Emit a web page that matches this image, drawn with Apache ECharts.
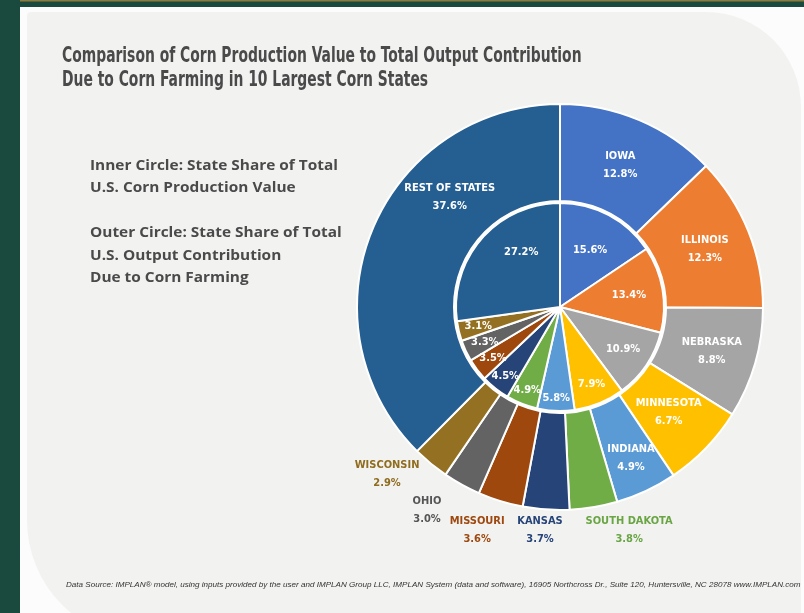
<!DOCTYPE html>
<html><head><meta charset="utf-8">
<script src="https://cdn.jsdelivr.net/npm/echarts@6/dist/echarts.min.js"></script>
<style>html,body{margin:0;padding:0;background:#1a4a3d}#c{width:804px;height:613px}</style>
</head><body><div id="c"></div>
<script>
// ---- data ----
const states = ['IOWA','ILLINOIS','NEBRASKA','MINNESOTA','INDIANA','SOUTH DAKOTA','KANSAS','MISSOURI','OHIO','WISCONSIN','REST OF STATES'];
const outerShare = [12.8,12.3,8.8,6.7,4.9,3.8,3.7,3.6,3.0,2.9,37.6];   // output contribution share (%)
const innerShare = [15.6,13.4,10.9,7.9,5.8,4.9,4.5,3.5,3.3,3.1,27.2];  // production value share (%)
const titleLines = ['Comparison of Corn Production Value to Total Output Contribution','Due to Corn Farming in 10 Largest Corn States'];
const noteLines = ['Inner Circle: State Share of Total','U.S. Corn Production Value','','Outer Circle: State Share of Total','U.S. Output Contribution','Due to Corn Farming'];
const sourceText = 'Data Source: IMPLAN\u00AE model, using inputs provided by the user and IMPLAN Group LLC, IMPLAN System (data and software), 16905 Northcross Dr., Suite 120, Huntersville, NC 28078 www.IMPLAN.com';

// ---- styles / layout ----
const colors = ['#4472C4','#ED7D31','#A5A5A5','#FFC000','#5B9BD5','#70AD47','#264478','#9E480E','#636363','#947022','#255E91'];
const outsideLabelColors = [null,null,null,null,null,'#6aa544','#264478','#9E480E','#555555','#8f6c1e',null];
const innerLabelLen = [-40,-34,-28,-21,-13,-15,-16,-20,-21,-20,-38];
const outerLabelLen = [-49,-47,-45,-52,-36,23,20.5,30,29,13.6,-48];
const outerLabelLen2 = [0,0,0,0,0,31.7,4.6,14.4,20.7,35,0];
const NARROW = '"Liberation Sans Narrow","DejaVu Sans Condensed","Arial Narrow",sans-serif';
const CX = 560, CY = 307;

function fmt(v){ return v.toFixed(1) + '%'; }

const innerData = innerShare.map((v,i)=>({
  name: states[i], value: v,
  itemStyle:{color: colors[i]},
  label:{color:'#fff'},
  labelLine:{show:false,length:innerLabelLen[i],length2:0}
}));
const outerData = outerShare.map((v,i)=>({
  name: states[i], value: v,
  itemStyle:{color: colors[i]},
  label:{color: outsideLabelColors[i] || '#fff'},
  labelLine:{show:false,length:outerLabelLen[i],length2:outerLabelLen2[i]}
}));

const chart = echarts.init(document.getElementById('c'), null, {renderer:'canvas'});

const graphics = [
  {type:'rect', z:-10, shape:{x:0,y:0,width:804,height:613}, style:{fill:'#1a4a3d'}},
  {type:'rect', z:-10, shape:{x:20,y:0,width:784,height:1.5}, style:{fill:'#8d7b3e'}},
  {type:'rect', z:-9, shape:{x:20,y:7,width:784,height:606}, style:{fill:'#fcfcfc'}},
  {type:'rect', z:-8, shape:{x:27,y:12,width:774,height:628,r:[4,95,0,120]}, style:{fill:'#f2f2f1'}}
];
titleLines.forEach((t,i)=>graphics.push({type:'text', z:10, x:62, y:46+i*24, scaleX:0.735,
  style:{text:t, font:'bold 21px '+NARROW, fill:'#4a4a4a', textVerticalAlign:'top'}}));
noteLines.forEach((t,i)=>{ if(t) graphics.push({type:'text', z:10, x:90, y:166+i*22.4, scaleX:1.1,
  style:{text:t, font:'bold 14px "Open Sans","Liberation Sans",sans-serif', fill:'#4a4a4a', textVerticalAlign:'middle'}});});
graphics.push({type:'text', z:10, x:66, y:585, scaleX:1.01, style:{text:sourceText, font:'italic 8px "Liberation Sans",sans-serif', fill:'#333', textVerticalAlign:'middle'}});

const labelBase = {show:true, position:'outside', distanceToLabelLine:0, fontFamily:NARROW, fontWeight:'bold', fontSize:11};

chart.setOption({
  animation:false,
  graphic: graphics,
  series:[
    {
      type:'pie', name:'outer', center:[CX,CY], radius:[106,203], startAngle:90, clockwise:true,
      avoidLabelOverlap:false, silent:true, emphasis:{disabled:true},
      itemStyle:{borderColor:'#fff', borderWidth:2},
      label:Object.assign({}, labelBase, {lineHeight:18, formatter:p=>p.name+'\n'+fmt(p.value)}),
      labelLine:{show:false},
      labelLayout:function(p){ const o={align:'center'}; if(p.dataIndex===10){o.dx=33;o.dy=-51;} return o; },
      data: outerData
    },
    {
      type:'pie', name:'inner', center:[CX,CY], radius:[0,104], startAngle:90, clockwise:true,
      avoidLabelOverlap:false, silent:true, emphasis:{disabled:true},
      itemStyle:{borderColor:'#fff', borderWidth:2},
      label:Object.assign({}, labelBase, {formatter:p=>fmt(p.value)}),
      labelLine:{show:false},
      labelLayout:function(p){ const o={align:'center'}; if(p.dataIndex===10){o.dx=11;o.dy=-11;} return o; },
      data: innerData
    }
  ]
});
</script></body></html>
